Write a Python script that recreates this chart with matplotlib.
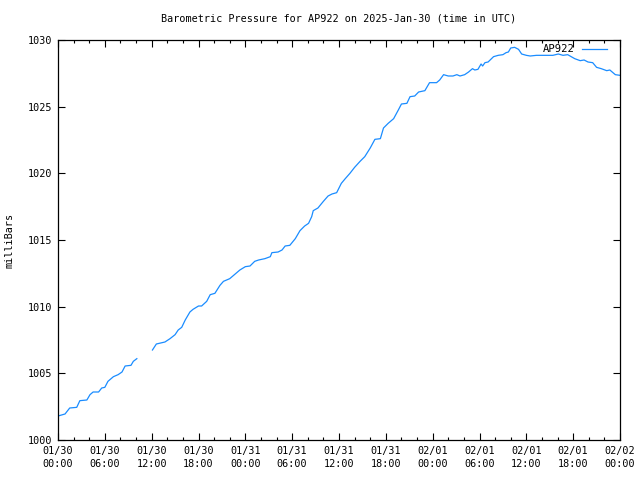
import matplotlib
matplotlib.use("Agg")
import matplotlib.pyplot as plt
import numpy as np

# hours since 2025-01-30 00:00 UTC, NaN marks the data gap
hours = [0.0, 0.9, 1.5, 2.4, 2.8, 3.7, 4.1, 4.5, 5.2, 5.6, 6.0, 6.4, 7.1, 7.7,
         8.2, 8.6, 9.35, 9.65, 10.1, 11.0,
         12.1, 12.6, 13.7, 14.35, 15.0, 15.4, 15.85, 16.3, 16.9, 17.3, 18.0,
         18.4, 19.05, 19.5, 20.1, 20.75, 21.2, 22.0, 22.7, 23.3, 24.0, 24.6,
         25.2, 25.7, 26.5, 27.2, 27.4, 28.2, 28.7, 29.1, 29.7, 30.4, 31.0,
         31.6, 32.1, 32.5, 32.7, 33.3, 34.0, 34.6, 35.1, 35.7, 36.3, 36.8,
         37.4, 38.0, 38.7, 39.3, 40.0, 40.6, 41.3, 41.7, 42.3, 43.0, 43.6,
         44.0, 44.7, 45.1, 45.7, 46.2, 47.0, 47.6, 48.5, 48.9, 49.4, 50.0,
         50.6, 51.1, 51.5, 52.1, 52.6, 53.1, 53.4, 53.8, 54.2, 54.4, 54.7,
         55.1, 55.8, 56.4, 57.0, 57.4, 57.7, 58.0, 58.5, 59.0, 59.4, 60.0,
         60.5, 61.3, 62.2, 63.4, 64.1, 64.7, 65.3, 66.2, 66.9, 67.4, 67.9,
         68.5, 69.0, 69.6, 70.3, 70.7, 71.4, 72.0]
pressure = [1001.8, 1001.95, 1002.4, 1002.45, 1002.95, 1003.0, 1003.4, 1003.6,
            1003.6, 1003.9, 1003.95, 1004.4, 1004.75, 1004.9, 1005.1, 1005.55,
            1005.6, 1005.9, 1006.1, np.nan,
            1006.75, 1007.2, 1007.35, 1007.6, 1007.9, 1008.25, 1008.45, 1009.0,
            1009.6, 1009.8, 1010.05, 1010.05, 1010.4, 1010.9, 1011.0, 1011.6,
            1011.9, 1012.1, 1012.45, 1012.75, 1013.0, 1013.05, 1013.4, 1013.5,
            1013.6, 1013.75, 1014.05, 1014.1, 1014.25, 1014.55, 1014.6, 1015.1,
            1015.7, 1016.05, 1016.25, 1016.75, 1017.2, 1017.4, 1017.9, 1018.3,
            1018.45, 1018.55, 1019.25, 1019.6, 1020.0, 1020.45, 1020.9, 1021.25,
            1021.9, 1022.55, 1022.6, 1023.4, 1023.75, 1024.1, 1024.75, 1025.2,
            1025.25, 1025.75, 1025.8, 1026.1, 1026.2, 1026.8, 1026.8, 1027.0,
            1027.4, 1027.3, 1027.3, 1027.4, 1027.3, 1027.4, 1027.6, 1027.85,
            1027.75, 1027.8, 1028.2, 1028.05, 1028.3, 1028.35, 1028.75, 1028.85,
            1028.9, 1029.05, 1029.1, 1029.4, 1029.45, 1029.3, 1028.95, 1028.85,
            1028.8, 1028.85, 1028.85, 1028.85, 1028.95, 1028.85, 1028.9, 1028.6,
            1028.45, 1028.5, 1028.35, 1028.3, 1027.95, 1027.85, 1027.7, 1027.75,
            1027.4, 1027.35]

tick_hours = [0, 6, 12, 18, 24, 30, 36, 42, 48, 54, 60, 66, 72]
tick_labels = ["01/30\n00:00", "01/30\n06:00", "01/30\n12:00", "01/30\n18:00",
               "01/31\n00:00", "01/31\n06:00", "01/31\n12:00", "01/31\n18:00",
               "02/01\n00:00", "02/01\n06:00", "02/01\n12:00", "02/01\n18:00",
               "02/02\n00:00"]
y_ticks = [1000, 1005, 1010, 1015, 1020, 1025, 1030]

plt.rcParams['font.family'] = 'DejaVu Sans Mono'
plt.rcParams['font.size'] = 7.3

fig = plt.figure(figsize=(6.4, 4.8), dpi=100)
ax = fig.add_axes([58/640, 40/480, 562/640, 400/480])

ax.plot(hours, pressure, color='#1a8cff', lw=0.9, label='AP922')

ax.set_xlim(0, 72)
ax.set_ylim(1000, 1030)
ax.set_xticks(tick_hours)
ax.set_xticklabels(tick_labels, linespacing=1.45)
ax.set_xticks(np.arange(0, 73, 2), minor=True)
ax.set_yticks(y_ticks)
ax.tick_params(direction='in', top=True, right=True, length=5, width=0.8,
               pad=4, colors='black')
ax.tick_params(which='minor', direction='in', top=True, length=2.5, width=0.8)
for s in ax.spines.values():
    s.set_linewidth(0.9)

ax.set_ylabel('milliBars', va='center')
ax.yaxis.set_label_coords(-48/562, 0.5)
ax.set_title('Barometric Pressure for AP922 on 2025-Jan-30 (time in UTC)',
             pad=13, fontsize=7.3)

ax.legend(loc='upper right', frameon=False, markerfirst=False,
          handlelength=2.4, handletextpad=0.7, borderaxespad=0.2,
          borderpad=0.2, fontsize=7.6, bbox_to_anchor=(0.985, 1.0))

fig.savefig('out.png', dpi=100)
